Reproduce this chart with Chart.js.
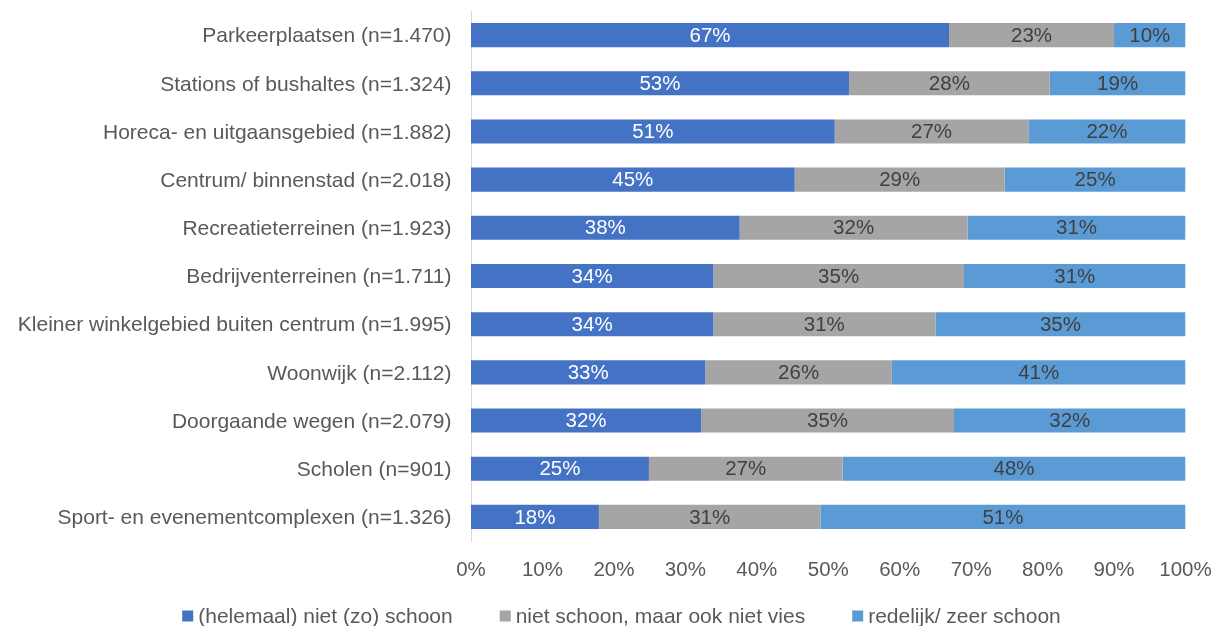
<!DOCTYPE html>
<html>
<head>
<meta charset="utf-8">
<script src="https://cdn.jsdelivr.net/npm/chart.js@4"></script>
<style>
  html, body { margin: 0; padding: 0; background: #fff; }
  #wrap { width: 1219px; height: 626px; position: relative; }
</style>
</head>
<body>
<div id="wrap"><canvas id="c" width="1219" height="626"></canvas></div>
<script>
const categories = [
  "Parkeerplaatsen (n=1.470)",
  "Stations of bushaltes (n=1.324)",
  "Horeca- en uitgaansgebied (n=1.882)",
  "Centrum/ binnenstad (n=2.018)",
  "Recreatieterreinen (n=1.923)",
  "Bedrijventerreinen (n=1.711)",
  "Kleiner winkelgebied buiten centrum (n=1.995)",
  "Woonwijk (n=2.112)",
  "Doorgaande wegen (n=2.079)",
  "Scholen (n=901)",
  "Sport- en evenementcomplexen (n=1.326)"
];
const seriesNames = [
  "(helemaal) niet (zo) schoon",
  "niet schoon, maar ook niet vies",
  "redelijk/ zeer schoon"
];
const nietSchoon   = [66.9, 52.9, 50.9, 45.3, 37.6, 33.9, 33.9, 32.8, 32.2, 24.9, 17.9];
const neutraal     = [23.1, 28.1, 27.1, 29.4, 31.9, 35.1, 31.1, 26.1, 35.4, 27.1, 31.0];
const schoon       = [10.0, 19.0, 22.0, 25.3, 30.5, 31.0, 35.0, 41.1, 32.4, 48.0, 51.1];
const xTicks = [0, 10, 20, 30, 40, 50, 60, 70, 80, 90, 100];

const colors = ["#4472C4", "#A5A5A5", "#5B9BD5"];
const labelColors = ["#FFFFFF", "#404040", "#404040"];
const FONT = "'Liberation Sans', Arial, sans-serif";

const barLabels = {
  id: 'barLabels',
  afterDatasetsDraw(chart) {
    const ctx = chart.ctx;
    ctx.save();
    ctx.font = "20.5px " + FONT;
    ctx.textAlign = 'center';
    ctx.textBaseline = 'middle';
    chart.data.datasets.forEach((ds, di) => {
      const meta = chart.getDatasetMeta(di);
      meta.data.forEach((el, i) => {
        const v = ds.data[i];
        const p = el.getCenterPoint();
        ctx.fillStyle = labelColors[di];
        ctx.fillText(Math.round(v) + '%', p.x, p.y + 1);
      });
    });
    ctx.restore();
  }
};

const customLegend = {
  id: 'customLegend',
  afterDraw(chart) {
    const ctx = chart.ctx;
    ctx.save();
    ctx.font = "21px " + FONT;
    ctx.textBaseline = 'middle';
    const box = 11, gapBox = 5, gapItem = 47;
    const ds = chart.data.datasets;
    let total = 0;
    const widths = ds.map(d => ctx.measureText(d.label).width);
    widths.forEach((w, i) => { total += box + gapBox + w + (i < widths.length - 1 ? gapItem : 0); });
    let x = 621.5 - total / 2;
    const yc = 616;
    ds.forEach((d, i) => {
      ctx.fillStyle = d.backgroundColor;
      ctx.fillRect(x, yc - box / 2, box, box);
      x += box + gapBox;
      ctx.fillStyle = '#595959';
      ctx.fillText(d.label, x, yc + 1);
      x += widths[i] + gapItem;
    });
    ctx.restore();
  }
};

const values = [nietSchoon, neutraal, schoon];

new Chart(document.getElementById('c'), {
  type: 'bar',
  data: {
    labels: categories,
    datasets: values.map((arr, i) => ({
      label: seriesNames[i],
      data: arr,
      backgroundColor: colors[i],
      borderWidth: 0,
      barPercentage: 0.5,
      categoryPercentage: 1.0
    }))
  },
  options: {
    indexAxis: 'y',
    responsive: false,
    animation: false,
    devicePixelRatio: 1,
    layout: { padding: { left: 0, right: 33.5, top: 11, bottom: 45 } },
    plugins: {
      legend: { display: false },
      tooltip: { enabled: false }
    },
    scales: {
      x: {
        stacked: true,
        min: 0,
        max: 100,
        afterBuildTicks(scale) { scale.ticks = xTicks.map(v => ({ value: v })); },
        afterFit(scale) {
          scale.height = 40;
          scale.paddingLeft = 0; scale.paddingRight = 0;
          scale.paddingTop = 0; scale.paddingBottom = 0;
        },
        grid: { display: false, drawTicks: false },
        border: { display: false },
        ticks: {
          padding: 17,
          color: '#595959',
          font: { family: FONT, size: 20.5 },
          maxRotation: 0,
          callback: v => v + '%'
        }
      },
      y: {
        stacked: true,
        afterFit(scale) {
          scale.width = 471;
          scale.paddingLeft = 0; scale.paddingRight = 0;
          scale.paddingTop = 0; scale.paddingBottom = 0;
        },
        grid: { display: false, drawTicks: false },
        border: { display: true, color: '#D9D9D9', width: 1 },
        ticks: {
          padding: 19.5,
          labelOffset: 1.5,
          color: '#595959',
          font: { family: FONT, size: 21 },
          autoSkip: false
        }
      }
    }
  },
  plugins: [barLabels, customLegend]
});
</script>
</body>
</html>
